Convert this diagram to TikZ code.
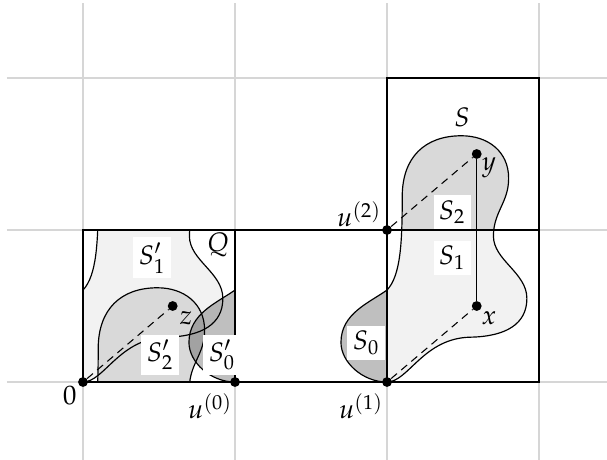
\documentclass[tikz,border=0pt]{standalone}
\usepackage{mathpazo}
\begin{document}
\begin{tikzpicture}[x=2.5cm,y=2.5cm,
  gridline/.style={draw=black!16, line width=0.7pt},
  frame/.style={draw=black, line width=0.55pt},
  outline/.style={draw=black, line width=0.55pt},
  dot/.style={circle, fill=black, inner sep=0pt, minimum size=4.6pt},
  dashline/.style={draw=black, line width=0.5pt, dash pattern=on 3.6pt off 2.6pt},
  lab/.style={fill=white, inner sep=2.5pt, font=\fontsize{12.5}{15}\selectfont},
  txt/.style={inner sep=1pt, font=\fontsize{12.5}{15}\selectfont},
  piecezero/.style={fill=black, fill opacity=0.25},
  pieceone/.style={fill=black!5},
  piecetwo/.style={fill=black!15},
]
\useasboundingbox (-0.546,-0.507) rectangle (3.447,2.513);
% grid
\foreach \gx in {0,1,2,3} \draw[gridline] (\gx,-0.6) -- (\gx,2.493);
\foreach \gy in {0,1,2} \draw[gridline] (-0.5,\gy) -- (3.6,\gy);

\def\Scurve{(2,0) .. controls (2.14,0.0) and (2.24,0.29) .. (2.55,0.295)
 .. controls (2.78,0.30) and (2.92,0.38) .. (2.92,0.55)
 .. controls (2.92,0.72) and (2.70,0.80) .. (2.70,0.96)
 .. controls (2.70,1.12) and (2.80,1.18) .. (2.80,1.34)
 .. controls (2.80,1.52) and (2.66,1.62) .. (2.49,1.62)
 .. controls (2.25,1.62) and (2.10,1.48) .. (2.10,1.22)
 .. controls (2.10,0.92) and (2.09,0.70) .. (2.0,0.605)
 .. controls (1.88,0.52) and (1.697,0.45) .. (1.697,0.26)
 .. controls (1.697,0.13) and (1.84,0.0) .. (2,0) -- cycle}

% pieces of S
\begin{scope}\clip (1,0) rectangle (2,1); \fill[piecezero] \Scurve; \end{scope}
\begin{scope}\clip (2,0) rectangle (3,1); \fill[pieceone] \Scurve; \end{scope}
\begin{scope}\clip (2,1) rectangle (3,2); \fill[piecetwo] \Scurve; \end{scope}
\draw[outline] \Scurve;

% translated pieces in Q
\begin{scope}[shift={(-2,0)}]\clip (2,0) rectangle (3,1); \fill[pieceone] \Scurve; \end{scope}
\begin{scope}[shift={(-2,-1)}]\clip (2,1) rectangle (3,2); \fill[piecetwo] \Scurve; \end{scope}
\begin{scope}[shift={(-1,0)}]\clip (1,0) rectangle (2,1); \fill[piecezero] \Scurve; \end{scope}
\begin{scope}[shift={(-2,0)}]\clip (2,0) rectangle (3,1); \draw[outline] \Scurve; \end{scope}
\begin{scope}[shift={(-2,-1)}]\clip (2,1) rectangle (3,2); \draw[outline] \Scurve; \end{scope}
\begin{scope}[shift={(-1,0)}]\clip (1,0) rectangle (2,1); \draw[outline] \Scurve; \end{scope}

% frames
\draw[frame] (0,0) rectangle (3,1);
\draw[frame] (2,0) rectangle (3,2);
\draw[frame] (1,0) -- (1,1);

% points
\node[dot] (o) at (0,0) {};
\node[dot] (u0) at (1,0) {};
\node[dot] (u1) at (2,0) {};
\node[dot] (u2) at (2,1) {};
\node[dot] (x) at (2.59,0.5) {};
\node[dot] (y) at (2.59,1.5) {};
\node[dot] (z) at (0.59,0.5) {};

\draw[dashline] (u1) -- (x);
\draw[dashline] (u2) -- (y);
\draw[dashline] (o) -- (z);
\draw[line width=0.55pt] (y) -- (x);

% labels
\node[lab] (ls1p) at (0.454,0.816) {$S_1'$};
\node[lab] (ls2p) at (0.507,0.178) {$S_2'$};
\node[lab] (ls0p) at (0.914,0.178) {$S_0'$};
\node[lab] (ls0) at (1.862,0.257) {$S_0$};
\node[lab] (ls1) at (2.428,0.816) {$S_1$};
\node[lab] (ls2) at (2.428,1.118) {$S_2$};
\node[txt] (lq) at (0.888,0.901) {$Q$};
\node[txt] (ls) at (2.493,1.743) {$S$};
\node[txt] (lz) at (0.678,0.42) {$z$};
\node[txt] (ly) at (2.671,1.408) {$y$};
\node[txt] (lx) at (2.671,0.42) {$x$};
\node[txt] (lo) at (-0.086,-0.092) {$0$};
\node[txt] (lu0) at (0.836,-0.158) {$u^{(0)}$};
\node[txt] (lu1) at (1.829,-0.158) {$u^{(1)}$};
\node[txt] (lu2) at (1.816,1.105) {$u^{(2)}$};
\end{tikzpicture}
\end{document}
